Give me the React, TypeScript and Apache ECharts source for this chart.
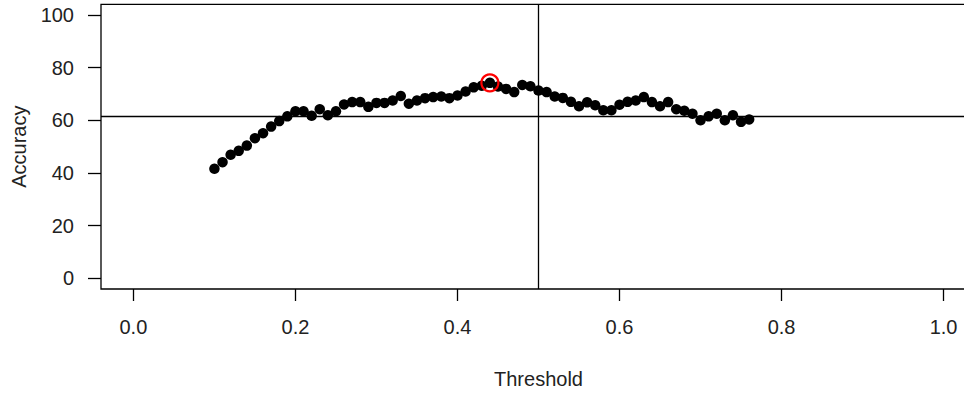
import React, { useEffect, useRef } from "react";
import * as echarts from "echarts";

const thresholds = [
  0.1, 0.11, 0.12, 0.13, 0.14, 0.15, 0.16, 0.17, 0.18, 0.19,
  0.2, 0.21, 0.22, 0.23, 0.24, 0.25, 0.26, 0.27, 0.28, 0.29,
  0.3, 0.31, 0.32, 0.33, 0.34, 0.35, 0.36, 0.37, 0.38, 0.39,
  0.4, 0.41, 0.42, 0.43, 0.44, 0.45, 0.46, 0.47, 0.48, 0.49,
  0.5, 0.51, 0.52, 0.53, 0.54, 0.55, 0.56, 0.57, 0.58, 0.59,
  0.6, 0.61, 0.62, 0.63, 0.64, 0.65, 0.66, 0.67, 0.68, 0.69,
  0.7, 0.71, 0.72, 0.73, 0.74, 0.75, 0.76,
];

const accuracy = [
  41.6, 44.1, 46.9, 48.4, 50.4, 53.2, 55.1, 57.6, 59.7, 61.5,
  63.4, 63.4, 61.7, 64.2, 61.9, 63.4, 66.0, 66.9, 66.9, 65.1,
  66.6, 66.6, 67.5, 69.2, 66.3, 67.5, 68.4, 68.8, 69.0, 68.4,
  69.4, 70.9, 72.5, 73.1, 74.2, 72.8, 71.9, 70.7, 73.4, 72.9,
  71.3, 70.7, 69.0, 68.5, 67.0, 65.3, 66.8, 65.7, 63.8, 63.8,
  65.9, 67.0, 67.5, 68.8, 66.9, 65.3, 66.9, 64.2, 63.6, 62.5,
  60.0, 61.5, 62.5, 60.0, 61.9, 59.4, 60.3,
];

const bestPoint = [0.44, 74.2];
const referenceAccuracy = 61.4;
const referenceThreshold = 0.5;

const xTicks = [0, 0.2, 0.4, 0.6, 0.8, 1.0];
const yTicks = [0, 20, 40, 60, 80, 100];

const FONT = "'Liberation Sans', Arial, Helvetica, sans-serif";

export default function App() {
  const ref = useRef<HTMLDivElement>(null);

  useEffect(() => {
    if (!ref.current) return;
    const chart = echarts.init(ref.current, null, { renderer: "svg" });
    const points = thresholds.map((t, i) => [t, accuracy[i]]);
    chart.setOption({
      animation: false,
      backgroundColor: "#ffffff",
      textStyle: { fontFamily: FONT },
      grid: {
        left: 101,
        top: 4.3,
        width: 875,
        height: 288.4,
        show: true,
        borderColor: "#000",
        borderWidth: 1.3,
        backgroundColor: "transparent",
      },
      xAxis: {
        type: "value",
        min: -0.04,
        max: 1.04,
        name: "Threshold",
        nameLocation: "middle",
        nameGap: 80,
        nameTextStyle: { fontFamily: FONT, fontSize: 20, color: "#222" },
        axisLine: { show: false, onZero: false },
        splitLine: { show: false },
        axisTick: {
          show: true,
          length: 12,
          customValues: xTicks,
          lineStyle: { color: "#000", width: 1.3 },
        },
        axisLabel: {
          customValues: xTicks,
          margin: 28,
          fontFamily: FONT,
          fontSize: 20,
          color: "#222",
          formatter: (v: number) => v.toFixed(1),
        },
      },
      yAxis: {
        type: "value",
        min: -4,
        max: 104,
        name: "Accuracy",
        nameLocation: "middle",
        nameGap: 72,
        nameRotate: 90,
        nameTextStyle: { fontFamily: FONT, fontSize: 20, color: "#222" },
        axisLine: { show: false, onZero: false },
        splitLine: { show: false },
        axisTick: {
          show: true,
          length: 13,
          customValues: yTicks,
          lineStyle: { color: "#000", width: 1.3 },
        },
        axisLabel: {
          customValues: yTicks,
          margin: 27,
          fontFamily: FONT,
          fontSize: 20,
          color: "#222",
        },
      },
      series: [
        {
          type: "scatter",
          data: points,
          symbol: "circle",
          symbolSize: 10.5,
          itemStyle: { color: "#000", opacity: 1 },
          silent: true,
          markLine: {
            silent: true,
            symbol: ["none", "none"],
            label: { show: false },
            lineStyle: { color: "#000", width: 1.3, type: "solid", opacity: 1 },
            data: [{ yAxis: referenceAccuracy }, { xAxis: referenceThreshold }],
          },
        },
        {
          type: "scatter",
          data: [bestPoint],
          symbol: "circle",
          symbolSize: 17,
          itemStyle: { color: "transparent", borderColor: "#ff0000", borderWidth: 2.2, opacity: 1 },
          silent: true,
          z: 5,
        },
      ],
    });
    return () => chart.dispose();
  }, []);

  return (
    <div
      style={{
        position: "absolute",
        left: 0,
        top: 0,
        width: 964,
        height: 394,
        overflow: "hidden",
        background: "#fff",
      }}
    >
      <div ref={ref} style={{ width: 990, height: 394 }} />
    </div>
  );
}
